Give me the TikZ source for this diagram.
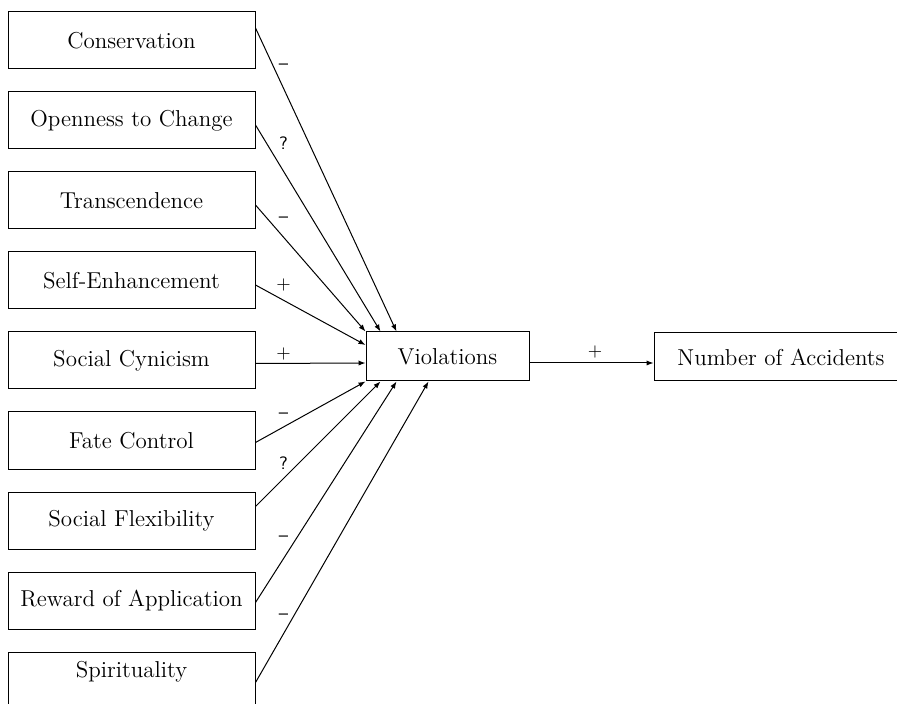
\documentclass[tikz,border=0pt]{standalone}
\usetikzlibrary{arrows.meta,positioning}
\begin{document}
\begin{tikzpicture}[->,>={Latex[length=3.5pt,width=2.6pt]},x=0.5pt,y=-0.5pt,
            node distance=40pt,line width=0.5pt,
            main node/.style={draw,font=\fontsize{11.5}{13}\selectfont,minimum width=123.5pt,minimum height=28.5pt,inner sep=2pt},
            sign/.style={font=\sffamily\fontsize{9}{10}\selectfont,anchor=center,inner sep=0pt}]

        \useasboundingbox (0,0) rectangle (897,704);

        % Define vertices
        \node[main node] (cons) at (131.5,40.5) {Conservation};
        \node[main node] (open) [below of=cons] {Openness to Change};
        \node[main node] (trans) [below of=open] {Transcendence};
        \node[main node] (self) [below of=trans] {Self-Enhancement};
        \node[main node] (cyn) [below of=self] {Social Cynicism};
        \node[main node] (fate) [below of=cyn] {Fate Control};
        \node[main node] (flex) [below of=fate] {Social Flexibility};
        \node[main node] (reward) [below of=flex] {Reward of Application};
        \node[main node] (spirit) [below of=reward] {\raisebox{1.3pt}[0pt][0pt]{Spirituality}};

        \node[main node,minimum width=81.5pt,minimum height=24.5pt] (viol) at (447.5,356.5) {Violations};
        \node[main node,minimum width=127pt,minimum height=24pt] (acc) at (781,357) {Number of Accidents};

        % Draw edges
        \path[every node/.style={sign}]
            ([yshift=6.25pt]cons.east) edge node[at start,xshift=14pt,yshift=-19.5pt] {--} ([xshift=15.5pt]viol.north west)
            ([yshift=-2.25pt]open.east) edge node[at start,xshift=14pt,yshift=-9pt] {?} ([xshift=7.5pt]viol.north west)
            ([yshift=-2.25pt]trans.east) edge node[at start,xshift=14pt,yshift=-7.5pt] {--} (viol.north west)
            ([yshift=-2.25pt]self.east) edge node[at start,xshift=14pt] {+} ([yshift=5.75pt]viol.west)
            ([yshift=-1.5pt]cyn.east) edge node[at start,xshift=14pt,yshift=5pt] {+} ([yshift=-3.25pt]viol.west)
            ([yshift=-1pt]fate.east) edge node[at start,xshift=14pt,yshift=13.5pt] {--} (viol.south west)
            ([yshift=7pt]flex.east) edge node[at start,xshift=14pt,yshift=21.5pt] {?} ([xshift=7.5pt]viol.south west)
            ([yshift=-1pt]reward.east) edge node[at start,xshift=14pt,yshift=32pt] {--} ([xshift=15.5pt]viol.south west)
            ([yshift=-1pt]spirit.east) edge node[at start,xshift=14pt,yshift=33pt] {--} ([xshift=31.5pt]viol.south west)
            ([yshift=-3.25pt]viol.east) edge node[midway,xshift=1.75pt,yshift=5.5pt] {+} ([yshift=-3pt]acc.west);

        \end{tikzpicture}
\end{document}
